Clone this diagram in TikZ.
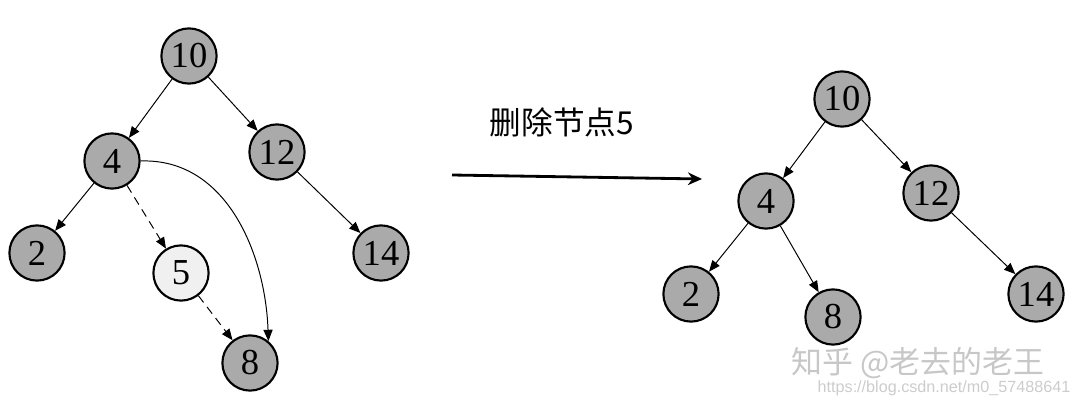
\documentclass[tikz,border=0pt]{standalone}
\usepackage{fontspec}
\setmainfont{Liberation Serif}
\newfontfamily\cjk{Noto Sans CJK SC}
\newfontfamily\urlfont{Liberation Sans}
\usepackage{tikz}
\usetikzlibrary{arrows.meta,positioning}
\definecolor{nodegray}{RGB}{170,170,170}
\definecolor{delgray}{RGB}{240,240,240}

\begin{document}
\begin{tikzpicture}[
    x=0.025cm, y=-0.025cm,
    tnode/.style={circle, draw, line width=1.5pt, fill=nodegray, minimum size=1.38cm, inner sep=0pt, font=\fontsize{26}{26}\selectfont},
    delnode/.style={tnode, fill=delgray},
    edge/.style={-{Triangle[length=8pt,width=6.5pt]}, line width=0.7pt},
    dashedge/.style={edge, dash pattern=on 6pt off 4pt},
    bigarrow/.style={-{Stealth[length=10pt,width=9pt]}, line width=2pt}
]
\useasboundingbox (0,0) rectangle (1077,407);

% tree before deletion
\node[tnode] (l10) at (189,56) {10};
\node[tnode] (l4) at (112,161) {4};
\node[tnode] (l12) at (277,152) {12};
\node[tnode] (l2) at (37,253) {2};
\node[delnode] (l5) at (181,273) {5};
\node[tnode] (l14) at (381,253) {14};
\node[tnode] (l8) at (250,363) {8};

\draw[edge] (l10) -- (l4);
\draw[edge] (l10) -- (l12);
\draw[edge] (l4) -- (l2);
\draw[dashedge] (l4) -- (l5);
\draw[dashedge] (l5) -- (l8);
\draw[edge] (l12) -- (l14);
\draw[edge] (l4.east) to[out=2, in=92] (l8.50);

% operation
\node[font=\cjk\fontsize{22.5}{22.5}\selectfont] (op) at (562,122) {删除节点5};
\coordinate (opstart) at (452,175);
\coordinate (opend) at (702,179);
\draw[bigarrow] (opstart) -- (opend);

% tree after deletion
\node[tnode] (r10) at (842,99) {10};
\node[tnode] (r4) at (766,201) {4};
\node[tnode] (r12) at (931,193) {12};
\node[tnode] (r2) at (691,294) {2};
\node[tnode] (r8) at (833,317) {8};
\node[tnode] (r14) at (1036,294) {14};

\draw[edge] (r10) -- (r4);
\draw[edge] (r10) -- (r12);
\draw[edge] (r4) -- (r2);
\draw[edge] (r4) -- (r8);
\draw[edge] (r12) -- (r14);

% watermark
\node[font=\cjk\fontsize{22}{22}\selectfont, text=black!22] (mark) at (918,363) {知乎 @老去的老王};
\node[font=\urlfont\fontsize{11.5}{11.5}\selectfont, text=black!20] (url) at (944,388) {https://blog.csdn.net/m0\_57488641};
\end{tikzpicture}
\end{document}
